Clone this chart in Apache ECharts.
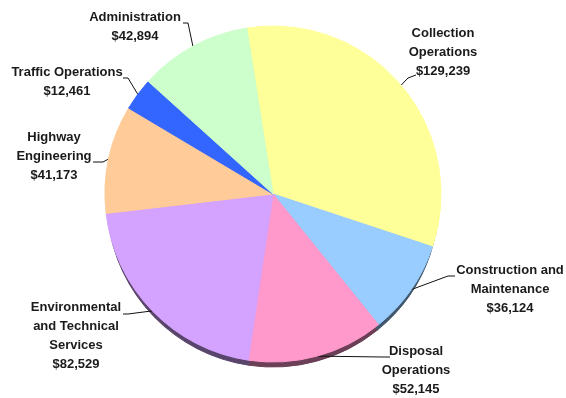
<!DOCTYPE html>
<html>
<head>
<meta charset="utf-8">
<script src="https://cdn.jsdelivr.net/npm/echarts@6/dist/echarts.min.js"></script>
<style>
  html, body { margin: 0; padding: 0; background: #fff; }
  #chart { width: 566px; height: 398px; }
</style>
</head>
<body>
<div id="chart"></div>
<script>
// budget by division (dollars)
const categories = [
  'Collection\nOperations',
  'Construction and\nMaintenance',
  'Disposal\nOperations',
  'Environmental\nand Technical\nServices',
  'Highway\nEngineering',
  'Traffic Operations',
  'Administration'
]
const values = [129239, 36124, 52145, 82529, 41173, 12461, 42894]
const colors = ['#ffff99', '#99ccff', '#ff99cc', '#d4a2ff', '#ffcc99', '#3366ff', '#ccffcc']

// label placement: block centre x, block top y, leader elbow, leader end
const labelSpots = [
  { x: 443, y: 24, elbow: [408, 78], end: [416, 75] },
  { x: 510, y: 261, elbow: [448, 276], end: [455, 276] },
  { x: 416, y: 342, elbow: [383, 357], end: [390, 357] },
  { x: 76, y: 298, elbow: [128, 314], end: [123, 314] },
  { x: 54, y: 128, elbow: [103, 162], end: [93, 162] },
  { x: 67, y: 63, elbow: [128, 78], end: [123, 78] },
  { x: 135, y: 8, elbow: [188, 23], end: [183, 23] }
]

// darker shade for the pie edge
function shade (hex, k) {
  let n = parseInt(hex.slice(1), 16)
  let r = Math.round(((n >> 16) & 255) * k)
  let g = Math.round(((n >> 8) & 255) * k)
  let b = Math.round((n & 255) * k)
  return 'rgb(' + r + ',' + g + ',' + b + ')'
}

let pieData = categories.map((name, i) => ({
  name: name,
  value: values[i],
  itemStyle: { color: colors[i], borderColor: colors[i], borderWidth: 1 }
}))
let rimData = categories.map((name, i) => ({
  name: name,
  value: values[i],
  itemStyle: { color: shade(colors[i], 0.42), borderColor: shade(colors[i], 0.42), borderWidth: 1 }
}))

let chart = echarts.init(document.getElementById('chart'))
let option = {
  animation: false,
  series: [
    {
      // darker copy shifted down, gives the pie its edge
      type: 'pie',
      silent: true,
      center: [273, 201],
      radius: 166,
      startAngle: 99,
      clockwise: true,
      z: 1,
      label: { show: false },
      labelLine: { show: false },
      data: rimData
    },
    {
      type: 'pie',
      center: [273, 194],
      radius: 168,
      startAngle: 99,
      clockwise: true,
      z: 2,
      label: {
        show: true,
        position: 'outside',
        overflow: 'none',
        fontFamily: 'Liberation Sans, Arial, sans-serif',
        fontSize: 13,
        fontWeight: 'bold',
        color: '#1a1a1a',
        lineHeight: 19,
        align: 'center',
        formatter: function (p) {
          return p.name + '\n$' + p.value.toLocaleString('en-US')
        }
      },
      labelLine: {
        show: true,
        length: 10,
        length2: 10,
        lineStyle: { color: '#111', width: 1 }
      },
      labelLayout: function (params) {
        let s = labelSpots[params.dataIndex]
        let pts = params.labelLinePoints
        let start = pts && pts.length ? pts[0] : s.elbow
        return {
          x: s.x,
          y: s.y,
          align: 'center',
          verticalAlign: 'top',
          labelLinePoints: [start, s.elbow, s.end]
        }
      },
      data: pieData
    }
  ]
}
chart.setOption(option)
</script>
</body>
</html>
